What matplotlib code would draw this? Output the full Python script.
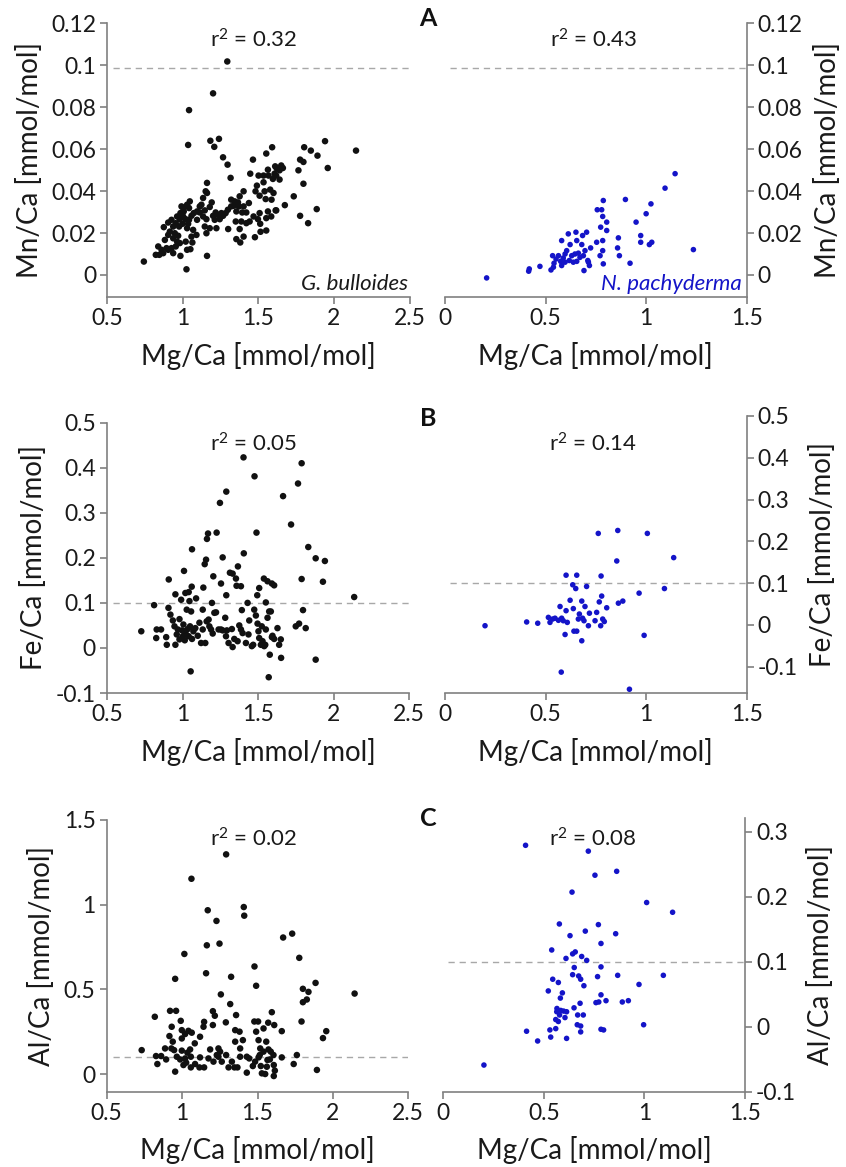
import matplotlib
matplotlib.use("Agg")
import matplotlib.pyplot as plt
import numpy as np

plt.rcParams['font.family'] = ['Lato', 'DejaVu Sans']
plt.rcParams['mathtext.fontset'] = 'custom'
plt.rcParams['mathtext.rm'] = 'Lato'
plt.rcParams['mathtext.it'] = 'Lato:italic'
plt.rcParams['mathtext.bf'] = 'Lato:bold'

# ---------------- DATA ----------------
# Panel A: Mn/Ca vs Mg/Ca
gb_mn_x = [1.294, 1.2, 1.041, 1.035, 1.182, 1.239, 1.208, 1.266, 1.296, 1.316, 1.464, 1.552, 1.591,
           1.803, 1.847, 1.891, 1.941, 1.959, 2.146, 1.776, 1.798, 1.765, 1.798, 1.886, 1.776, 1.829,
           1.734, 1.675, 1.614, 1.651, 1.662, 1.64, 1.607, 1.618, 1.596, 1.567, 1.534, 1.501, 1.563,
           1.622, 1.611, 1.64, 1.446, 1.49, 1.534, 1.578, 1.6, 1.541, 1.481, 1.508, 1.548, 1.587,
           1.618, 1.563, 1.585, 1.552, 1.508, 1.497, 1.512, 1.552, 1.514, 1.477, 1.468, 1.442, 1.437,
           1.402, 1.376, 1.365, 1.343, 1.371, 1.393, 1.42, 1.402, 1.354, 1.35, 1.387, 1.376, 1.402,
           1.38, 1.354, 1.32, 1.298, 1.283, 1.255, 1.233, 1.217, 1.2, 1.191, 1.16, 1.151, 1.16,
           1.134, 1.123, 1.112, 1.134, 1.156, 1.145, 1.156, 1.178, 1.222, 1.3, 1.094, 1.072, 1.046,
           1.028, 1.041, 1.057, 1.035, 1.028, 1.068, 1.057, 1.063, 1.05, 1.019, 1.028, 1.002, 0.984,
           1.002, 0.98, 0.997, 0.975, 0.953, 0.936, 0.903, 0.874, 0.914, 0.947, 0.969, 0.936, 0.903,
           0.881, 0.962, 0.98, 0.953, 0.925, 0.903, 0.892, 0.859, 0.837, 0.87, 0.844, 0.821, 0.936,
           0.984, 0.742, 1.16, 1.024, 1.09, 1.112, 1.094, 1.145, 1.178, 1.211, 1.244, 1.266, 1.32,
           1.336, 1.42, 1.006, 1.019, 1.041, 0.925, 0.991, 0.962]
gb_mn_y = [0.1018, 0.0866, 0.0786, 0.062, 0.064, 0.0649, 0.0611, 0.0561, 0.0526, 0.0463, 0.055,
           0.0579, 0.0609, 0.0609, 0.0593, 0.0569, 0.0638, 0.051, 0.0593, 0.055, 0.0539, 0.0499,
           0.0435, 0.0314, 0.0282, 0.0247, 0.0375, 0.0333, 0.0308, 0.0522, 0.051, 0.0499, 0.0483,
           0.0474, 0.0458, 0.0474, 0.0474, 0.0474, 0.0502, 0.0507, 0.0518, 0.0455, 0.0483, 0.0426,
           0.0442, 0.0407, 0.0391, 0.0399, 0.0399, 0.0378, 0.0362, 0.0359, 0.0308, 0.0303, 0.0279,
           0.0271, 0.0295, 0.0266, 0.0244, 0.0212, 0.0206, 0.018, 0.0279, 0.0255, 0.0343, 0.0399,
           0.0375, 0.0346, 0.0351, 0.0327, 0.0298, 0.0298, 0.0327, 0.0303, 0.0255, 0.0255, 0.0219,
           0.0183, 0.0155, 0.0171, 0.0327, 0.0311, 0.0295, 0.0295, 0.0287, 0.0298, 0.0282, 0.0346,
           0.0439, 0.0399, 0.0391, 0.0367, 0.0335, 0.0298, 0.0279, 0.0266, 0.0231, 0.0199, 0.0223,
           0.0223, 0.0219, 0.0263, 0.0295, 0.0351, 0.0335, 0.0319, 0.0282, 0.0244, 0.0223, 0.0215,
           0.0183, 0.0155, 0.0123, 0.0159, 0.012, 0.0319, 0.0295, 0.0279, 0.0266, 0.0244, 0.0231,
           0.0247, 0.0231, 0.025, 0.0228, 0.0207, 0.0199, 0.0187, 0.0175, 0.0191, 0.0167, 0.0159,
           0.0152, 0.0136, 0.0128, 0.012, 0.0128, 0.012, 0.0136, 0.0104, 0.0096, 0.0096, 0.0104,
           0.0091, 0.0064, 0.0091, 0.0027, 0.0191, 0.0327, 0.0303, 0.0308, 0.0324, 0.0263, 0.0266,
           0.0282, 0.0359, 0.033, 0.0247, 0.0303, 0.0266, 0.0263, 0.0263, 0.0327, 0.0279]

np_mn_x = [0.207, 0.416, 0.419, 0.472, 0.527, 0.539, 0.535, 0.552, 0.564, 0.575, 0.58, 0.588, 0.597,
           0.605, 0.613, 0.618, 0.63, 0.638, 0.646, 0.651, 0.655, 0.663, 0.671, 0.68, 0.684, 0.691,
           0.696, 0.704, 0.713, 0.718, 0.724, 0.754, 0.757, 0.771, 0.774, 0.779, 0.784, 0.787, 0.784,
           0.787, 0.804, 0.804, 0.862, 0.858, 0.867, 0.897, 0.92, 0.95, 0.973, 0.973, 1.0, 1.016,
           1.028, 1.024, 1.094, 1.144, 1.235, 0.58, 0.597, 0.655, 0.622, 0.688, 0.71, 0.784, 0.542]
np_mn_y = [-0.0014, 0.0018, 0.0029, 0.0041, 0.0024, 0.0037, 0.0092, 0.0076, 0.0092, 0.0065, 0.0164,
           0.0081, 0.01, 0.0116, 0.0196, 0.0069, 0.0092, 0.0061, 0.01, 0.0204, 0.0065, 0.0104, 0.0084,
           0.0145, 0.0188, 0.0021, 0.0116, 0.0204, 0.0061, 0.0045, 0.0129, 0.0156, 0.0311, 0.0092,
           0.0228, 0.0311, 0.0279, 0.0355, 0.0116, 0.0053, 0.0252, 0.0212, 0.0177, 0.0129, 0.0092,
           0.036, 0.0056, 0.0252, 0.0188, 0.0156, 0.0292, 0.0145, 0.0156, 0.0339, 0.0414, 0.0483,
           0.0121, 0.0045, 0.0061, 0.0164, 0.0145, 0.0092, 0.0069, 0.0164, 0.0056]

# Panel B: Fe/Ca vs Mg/Ca
gb_fe_x = [1.404, 1.789, 1.477, 1.765, 1.29, 1.248, 1.666, 1.719, 1.169, 1.226, 1.162, 1.49, 1.833,
           1.063, 1.266, 1.406, 1.156, 1.147, 1.882, 1.943, 1.01, 1.314, 1.332, 1.367, 1.204, 0.909,
           1.354, 1.789, 1.93, 1.539, 1.563, 1.592, 1.607, 1.255, 1.358, 1.387, 1.508, 1.138, 1.061,
           2.137, 1.29, 1.495, 0.953, 1.019, 1.041, 1.09, 0.991, 1.046, 1.552, 0.812,
           0.727, 0.829, 0.858, 0.826, 0.892, 0.896, 0.907, 0.92, 0.936, 0.947, 0.953, 0.962, 0.969,
           0.98, 0.98, 0.997, 1.002, 1.006, 1.013, 1.015, 1.024, 1.028, 1.035, 1.041, 1.05, 1.057,
           1.063, 1.072, 1.085, 1.101, 1.112, 1.123, 1.134, 1.134, 1.151, 1.16, 1.173, 1.178, 1.189,
           1.195, 1.2, 1.211, 1.222, 1.239, 1.255, 1.266, 1.283, 1.288, 1.294, 1.305, 1.327, 1.332,
           1.343, 1.365, 1.376, 1.387, 1.393, 1.398, 1.42, 1.431, 1.437, 1.442, 1.459, 1.468, 1.475,
           1.486, 1.497, 1.503, 1.508, 1.519, 1.525, 1.53, 1.541, 1.548, 1.552, 1.563, 1.574, 1.578,
           1.585, 1.592, 1.596, 1.607, 1.629, 1.64, 1.651, 1.653, 1.75, 1.772, 1.798, 1.816, 1.882,
           1.054, 1.571]
gb_fe_y = [0.423, 0.41, 0.381, 0.365, 0.347, 0.322, 0.337, 0.274, 0.254, 0.256, 0.242, 0.256, 0.224,
           0.219, 0.201, 0.21, 0.196, 0.186, 0.199, 0.193, 0.171, 0.167, 0.165, 0.181, 0.159, 0.152,
           0.154, 0.153, 0.147, 0.154, 0.148, 0.143, 0.139, 0.143, 0.138, 0.137, 0.133, 0.134, 0.136,
           0.113, 0.117, 0.117, 0.119, 0.122, 0.124, 0.11, 0.107, 0.104, 0.101, 0.095,
           0.037, 0.041, 0.041, 0.022, 0.024, 0.007, 0.089, 0.074, 0.061, 0.048, 0.007, 0.03, 0.041,
           0.064, 0.019, 0.039, 0.026, 0.052, 0.037, 0.017, 0.03, 0.085, 0.042, 0.026, 0.048, 0.081,
           0.02, 0.037, 0.044, 0.027, 0.056, 0.011, 0.085, 0.041, 0.011, 0.059, 0.063, 0.048, 0.041,
           0.1, 0.032, 0.078, 0.079, 0.041, 0.041, 0.039, 0.067, 0.026, 0.039, 0.011, 0.042, 0.002,
           0.02, 0.015, 0.05, 0.041, 0.084, 0.033, 0.011, 0.1, 0.03, 0.061, 0.004, 0.007, 0.085,
           0.072, 0.054, 0.037, 0.022, 0.007, 0.048, 0.015, 0.004, 0.007, 0.041, 0.067, 0.081, -0.015,
           0.081, 0.024, 0.027, 0.02, 0.044, 0.007, 0.019, -0.022, 0.048, 0.054, 0.084, 0.044, -0.026,
           -0.052, -0.065]

np_fe_x = [0.762, 0.859, 1.006, 0.854, 1.137, 0.602, 0.655, 0.776, 0.635, 0.704, 0.65, 1.091, 0.965,
           0.199, 0.406, 0.461, 0.514, 0.522, 0.535, 0.547, 0.564, 0.572, 0.58, 0.588, 0.597, 0.602,
           0.608, 0.622, 0.638, 0.641, 0.655, 0.663, 0.668, 0.68, 0.68, 0.684, 0.691, 0.696, 0.713,
           0.718, 0.746, 0.754, 0.767, 0.774, 0.779, 0.784, 0.792, 0.804, 0.862, 0.884, 0.99, 0.578,
           0.917]
np_fe_y = [0.219, 0.226, 0.219, 0.153, 0.161, 0.119, 0.119, 0.117, 0.096, 0.092, 0.087, 0.087, 0.076,
           -0.002, 0.007, 0.004, 0.018, 0.006, 0.014, 0.016, 0.011, 0.044, 0.016, 0.01, -0.023, 0.034,
           0.006, 0.059, 0.039, -0.015, -0.015, 0.014, 0.026, 0.057, -0.038, 0.016, 0.01, 0.044,
           -0.002, 0.028, 0.01, 0.03, 0.055, -0.002, 0.069, 0.014, 0.008, 0.041, 0.052, 0.057, -0.025,
           -0.113, -0.154]

# Panel C: Al/Ca vs Mg/Ca
gb_al_x = [1.292, 1.062, 1.17, 1.409, 1.412, 1.228, 1.164, 1.248, 1.015, 1.73, 1.67, 1.777, 1.159,
           1.48, 1.325, 0.954, 1.491, 1.885, 1.801, 1.838, 2.144, 1.257, 1.827, 1.801, 1.319, 0.92,
           0.96, 0.819, 1.204, 1.217, 1.595, 1.358, 0.991, 1.29, 1.146, 1.479, 1.504, 1.571, 1.611,
           1.792, 0.931, 1.142, 1.204, 1.54, 1.661, 1.956, 1.934, 0.998, 1.042, 1.064, 1.352, 1.381,
           1.491, 1.02, 0.916, 0.998, 1.119, 1.352, 1.403, 1.507, 1.558, 1.084, 0.938, 0.887, 0.929,
           0.947, 0.732, 0.998, 1.035, 1.053, 1.186, 1.241, 1.252, 1.292, 1.385, 1.429, 1.518, 1.573,
           1.588, 1.606, 1.54, 1.515, 1.661, 1.761, 0.827, 0.861, 0.836, 0.894, 0.965, 0.987, 1.02,
           1.027, 1.058, 1.086, 1.119, 1.146, 1.115, 1.058, 0.954, 1.009, 1.175, 1.208, 1.241, 1.308,
           1.33, 1.347, 1.367, 1.385, 1.429, 1.445, 1.469, 1.484, 1.507, 1.522, 1.529, 1.551, 1.562,
           1.566, 1.582, 1.608, 1.615, 1.608, 1.74, 1.894, 1.263, 1.23]
gb_al_y = [1.297, 1.153, 0.967, 0.986, 0.935, 0.904, 0.76, 0.77, 0.709, 0.829, 0.806, 0.686, 0.595,
           0.635, 0.574, 0.562, 0.521, 0.538, 0.503, 0.485, 0.475, 0.47, 0.44, 0.424, 0.413, 0.373,
           0.373, 0.338, 0.371, 0.344, 0.365, 0.348, 0.314, 0.305, 0.308, 0.31, 0.31, 0.303, 0.289,
           0.31, 0.279, 0.279, 0.289, 0.269, 0.253, 0.253, 0.212, 0.259, 0.255, 0.244, 0.259, 0.25,
           0.25, 0.236, 0.224, 0.21, 0.22, 0.191, 0.2, 0.2, 0.191, 0.181, 0.191, 0.151, 0.151, 0.141,
           0.141, 0.138, 0.126, 0.145, 0.145, 0.151, 0.132, 0.112, 0.151, 0.102, 0.151, 0.145, 0.132,
           0.112, 0.132, 0.112, 0.098, 0.112, 0.106, 0.106, 0.059, 0.086, 0.102, 0.086, 0.092, 0.067,
           0.102, 0.059, 0.098, 0.039, 0.039, 0.039, 0.014, 0.053, 0.092, 0.073, 0.102, 0.039, 0.073,
           0.039, 0.039, 0.102, 0.008, 0.092, 0.047, 0.073, 0.098, 0.047, 0.004, 0.0, 0.043, 0.083,
           0.086, 0.053, 0.02, -0.012, 0.059, 0.024, 0.073, 0.112]

np_al_x = [0.409, 0.721, 0.862, 0.754, 0.64, 1.011, 1.14, 0.577, 0.771, 0.706, 0.857, 0.63, 0.784,
           0.539, 0.656, 0.643, 0.688, 0.61, 0.713, 0.651, 0.784, 0.643, 0.673, 0.767, 0.867, 1.094,
           0.683, 0.544, 0.572, 0.973, 0.699, 0.522, 0.592, 0.582, 0.784, 0.759, 0.773, 0.809, 0.89,
           0.92, 0.68, 0.65, 0.565, 0.584, 0.598, 0.613, 0.564, 0.578, 0.605, 0.559, 0.572, 0.668,
           0.696, 0.666, 0.683, 0.996, 0.414, 0.53, 0.559, 0.683, 0.784, 0.797, 0.469, 0.534, 0.613,
           0.202]
np_al_y = [0.279, 0.27, 0.239, 0.233, 0.207, 0.191, 0.176, 0.158, 0.157, 0.147, 0.143, 0.14, 0.128,
           0.118, 0.115, 0.112, 0.108, 0.105, 0.102, 0.091, 0.092, 0.08, 0.078, 0.077, 0.079, 0.079,
           0.073, 0.073, 0.068, 0.065, 0.063, 0.055, 0.052, 0.044, 0.049, 0.037, 0.038, 0.04, 0.038,
           0.04, 0.036, 0.029, 0.028, 0.025, 0.024, 0.023, 0.023, 0.018, 0.014, 0.011, 0.008, 0.018,
           0.018, 0.003, 0.001, 0.003, -0.007, -0.005, -0.003, -0.008, -0.004, -0.005, -0.022, -0.016,
           -0.018, -0.059]

r2_left = ["0.32", "0.05", "0.02"]
r2_right = ["0.43", "0.14", "0.08"]
ylabels = ["Mn/Ca [mmol/mol]", "Fe/Ca [mmol/mol]", "Al/Ca [mmol/mol]"]
panel_letters = ["A", "B", "C"]
thresholds = [0.0985, 0.1, 0.1]
xlabel = "Mg/Ca [mmol/mol]"

# ---------------- LAYOUT ----------------
W, H = 846, 1167
fig = plt.figure(figsize=(W / 100, H / 100), dpi=100)

def add_ax(x0, ytop, x1, ybot):
    return fig.add_axes([x0 / W, 1 - ybot / H, (x1 - x0) / W, (ybot - ytop) / H])

def fx(px):
    return px / W

def fy(py):
    return 1 - py / H

SPINE = '#808080'
BLACK = '#111111'
BLUE = '#1414c8'
TXT = '#1a1a1a'
TICKFS = 16.5
LABELFS = 20

rows = [
    dict(L=(107.3, 23.3, 409.5, 297), R=(445, 23.3, 746.7, 297),
         Lylim=(-0.0105, 0.12), Rylim=(-0.0105, 0.12),
         Lticks=[0, 0.02, 0.04, 0.06, 0.08, 0.1, 0.12], Rticks=[0, 0.02, 0.04, 0.06, 0.08, 0.1, 0.12],
         Ltl=['0', '0.02', '0.04', '0.06', '0.08', '0.1', '0.12'],
         Rtl=['0', '0.02', '0.04', '0.06', '0.08', '0.1', '0.12'],
         gx=gb_mn_x, gy=gb_mn_y, nx=np_mn_x, ny=np_mn_y, rtext_y=40, letter_y=18),
    dict(L=(107, 422.7, 409, 693), R=(445, 416, 746.7, 693),
         Lylim=(-0.1, 0.5), Rylim=(-0.163, 0.5),
         Lticks=[-0.1, 0, 0.1, 0.2, 0.3, 0.4, 0.5], Rticks=[-0.1, 0, 0.1, 0.2, 0.3, 0.4, 0.5],
         Ltl=['-0.1', '0', '0.1', '0.2', '0.3', '0.4', '0.5'],
         Rtl=['-0.1', '0', '0.1', '0.2', '0.3', '0.4', '0.5'],
         gx=gb_fe_x, gy=gb_fe_y, nx=np_fe_x, ny=np_fe_y, rtext_y=444, letter_y=418),
    dict(L=(106.7, 820, 408.3, 1091.7), R=(443.3, 818, 745, 1091.7),
         Lylim=(-0.1045, 1.5), Rylim=(-0.1, 0.321),
         Lticks=[0, 0.5, 1, 1.5], Rticks=[-0.1, 0, 0.1, 0.2, 0.3],
         Ltl=['0', '0.5', '1', '1.5'], Rtl=['-0.1', '0', '0.1', '0.2', '0.3'],
         gx=gb_al_x, gy=gb_al_y, nx=np_al_x, ny=np_al_y, rtext_y=839, letter_y=818),
]

for i, r in enumerate(rows):
    # left panel (G. bulloides)
    axL = add_ax(*r['L'])
    axL.scatter(r['gx'], r['gy'], s=22, color=BLACK, edgecolors='none', zorder=3)
    axL.set_xlim(0.5, 2.5)
    axL.set_ylim(*r['Lylim'])
    axL.set_xticks([0.5, 1, 1.5, 2, 2.5])
    axL.set_xticklabels(['0.5', '1', '1.5', '2', '2.5'])
    axL.set_yticks(r['Lticks'])
    axL.set_yticklabels(r['Ltl'])
    axL.axhline(thresholds[i], xmin=0.02, xmax=1.0, color='#a8a8a8', lw=1.0,
                dashes=(4.5, 3.5), zorder=1)
    for s in ['top', 'right']:
        axL.spines[s].set_visible(False)
    for s in ['left', 'bottom']:
        axL.spines[s].set_color(SPINE)
        axL.spines[s].set_linewidth(1.2)
    axL.tick_params(direction='out', length=5, width=1.2, color=SPINE,
                    labelsize=TICKFS, labelcolor=TXT, pad=3)
    axL.set_xlabel(xlabel, fontsize=LABELFS, color=TXT, labelpad=9)
    axL.set_ylabel(ylabels[i], fontsize=LABELFS, color=TXT, labelpad=6)
    axL.patch.set_alpha(0)

    # right panel (N. pachyderma)
    axR = add_ax(*r['R'])
    axR.scatter(r['nx'], r['ny'], s=16, color=BLUE, edgecolors='none', zorder=3)
    axR.set_xlim(0, 1.5)
    axR.set_ylim(*r['Rylim'])
    axR.set_xticks([0, 0.5, 1, 1.5])
    axR.set_xticklabels(['0', '0.5', '1', '1.5'])
    axR.set_yticks(r['Rticks'])
    axR.set_yticklabels(r['Rtl'])
    axR.axhline(thresholds[i], xmin=0.015, xmax=1.0, color='#a8a8a8', lw=1.0,
                dashes=(4.5, 3.5), zorder=1)
    for s in ['top', 'left']:
        axR.spines[s].set_visible(False)
    for s in ['right', 'bottom']:
        axR.spines[s].set_color(SPINE)
        axR.spines[s].set_linewidth(1.2)
    axR.yaxis.tick_right()
    axR.yaxis.set_label_position('right')
    axR.tick_params(direction='out', length=5, width=1.2, color=SPINE,
                    labelsize=TICKFS, labelcolor=TXT, pad=3)
    axR.set_xlabel(xlabel, fontsize=LABELFS, color=TXT, labelpad=9)
    axR.set_ylabel(ylabels[i], fontsize=LABELFS, color=TXT, labelpad=8)
    axR.patch.set_alpha(0)

    # r^2 annotations
    fig.text(fx(253), fy(r['rtext_y']), r'r$^{\mathrm{2}}$ = ' + r2_left[i], ha='center',
             va='center', fontsize=16, color=TXT)
    fig.text(fx(593), fy(r['rtext_y']), r'r$^{\mathrm{2}}$ = ' + r2_right[i], ha='center',
             va='center', fontsize=16, color=TXT)
    # panel letter
    fig.text(fx(428), fy(r['letter_y']), panel_letters[i], ha='center', va='center',
             fontsize=18, fontweight='bold', color='#111111')

    if i == 0:
        axL.text(0.995, 0.012, 'G. bulloides', transform=axL.transAxes, ha='right', va='bottom',
                 fontsize=16, style='italic', color=TXT)
        axR.text(0.985, 0.012, 'N. pachyderma', transform=axR.transAxes, ha='right', va='bottom',
                 fontsize=16, style='italic', color=BLUE)

fig.savefig('out.png', dpi=100, facecolor='white')
